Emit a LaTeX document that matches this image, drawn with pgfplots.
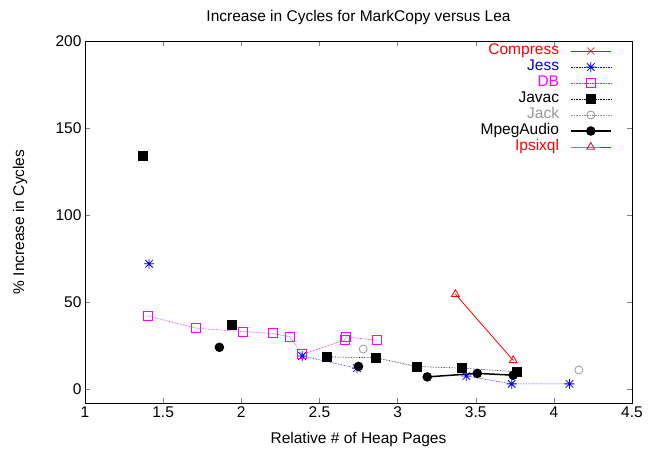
\documentclass[border=0pt]{standalone}
\usepackage{fontspec}
\setmainfont{Liberation Sans}
\usepackage{pgfplots}
\pgfplotsset{compat=1.18}
\definecolor{jackgray}{RGB}{150,150,150}
\definecolor{gpred}{RGB}{255,0,0}
\definecolor{gpblue}{RGB}{0,0,255}
\definecolor{gpmag}{RGB}{255,0,255}

% gnuplot style star: plus and cross together
\pgfdeclareplotmark{gpstar}{%
  \pgfpathmoveto{\pgfqpoint{-\pgfplotmarksize}{0pt}}\pgfpathlineto{\pgfqpoint{\pgfplotmarksize}{0pt}}%
  \pgfpathmoveto{\pgfqpoint{0pt}{-\pgfplotmarksize}}\pgfpathlineto{\pgfqpoint{0pt}{\pgfplotmarksize}}%
  \pgfpathmoveto{\pgfqpoint{-0.75\pgfplotmarksize}{-0.75\pgfplotmarksize}}\pgfpathlineto{\pgfqpoint{0.75\pgfplotmarksize}{0.75\pgfplotmarksize}}%
  \pgfpathmoveto{\pgfqpoint{-0.75\pgfplotmarksize}{0.75\pgfplotmarksize}}\pgfpathlineto{\pgfqpoint{0.75\pgfplotmarksize}{-0.75\pgfplotmarksize}}%
  \pgfusepathqstroke}

\begin{document}
\begin{tikzpicture}[font=\fontsize{15.5bp}{18bp}\selectfont]
\useasboundingbox (-85bp,-51bp) rectangle (572bp,403bp);
\begin{axis}[
    at={(0,0)}, anchor=south west,
    scale only axis,
    width=547bp, height=362bp,
    xmin=1, xmax=4.5, ymin=-8, ymax=200,
    xtick={1,1.5,2,2.5,3,3.5,4,4.5},
    ytick={0,50,100,150,200},
    /pgf/number format/assume math mode=true,
    tick align=inside, tick pos=both,
    major tick length=5bp,
    axis line style={black, line width=0.8bp},
    unbounded coords=jump,
    title={Increase in Cycles for MarkCopy versus Lea},
    xlabel={Relative \# of Heap Pages},
    ylabel={\% Increase in Cycles},
    every axis title/.style={at={(axis description cs:0.5,1)}, yshift=24bp, anchor=center},
    every axis x label/.style={at={(axis description cs:0.5,0)}, yshift=-36bp, anchor=center},
    every axis y label/.style={at={(axis description cs:0,0.5)}, xshift=-65bp, rotate=90, anchor=center},
    legend style={draw=none, fill=none, at={(axis description cs:0.963,0.995)}, anchor=north east,
        row sep=0bp, column sep=10bp, inner sep=0bp,
        nodes={inner sep=1bp, text height=10.5bp, text depth=3.5bp}},
    legend cell align=right,
    legend plot pos=right,
    legend image code/.code={\draw[mark repeat=2,mark phase=2,#1] plot coordinates {(0bp,0bp) (20bp,0bp) (40bp,0bp)};},
]
% Compress (no points in range)
\addlegendimage{gpred, line width=0.6bp, mark=x, mark size=5bp, mark options={solid}}
% Jess
\addplot[gpblue, densely dotted, line width=0.6bp, mark=gpstar, mark size=5bp, mark options={solid, line width=0.8bp}] coordinates {
 (1.41,72) (1.9,nan) (2.39,19) (2.74,12) (3.1,nan) (3.44,7.5) (3.73,3) (4.10,3)};
% DB
\addplot[gpmag, densely dotted, line width=0.6bp, mark=square, mark size=4.5bp, mark options={solid, line width=0.8bp}] coordinates {
 (1.40,42) (1.71,35) (2.01,33) (2.20,32) (2.31,30) (2.39,20) (2.66,28) (2.67,30) (2.87,28)};
% Javac
\addplot[black, densely dotted, line width=0.6bp, mark=square*, mark size=4.5bp, mark options={solid}] coordinates {
 (1.37,134) (1.6,nan) (1.94,37) (2.2,nan) (2.55,18.5) (2.86,18) (3.12,13) (3.41,12) (3.76,10)};
% Jack
\addplot[jackgray, densely dotted, line width=0.6bp, mark=o, mark size=4bp, mark options={solid, line width=0.8bp}] coordinates {
 (2.78,23) (3.5,nan) (4.16,11)};
% MpegAudio
\addplot[black, solid, line width=1.5bp, mark=*, mark size=4bp] coordinates {
 (1.86,24) (2.3,nan) (2.75,13) (3.0,nan) (3.19,7) (3.51,9) (3.74,8)};
% Ipsixql
\addplot[gpred, solid, line width=0.8bp, mark=triangle, mark size=4.5bp] coordinates {
 (3.37,54.5) (3.74,16.5)};
\legend{\textcolor{gpred}{Compress}, \textcolor{gpblue}{Jess}, \textcolor{gpmag}{DB}, Javac,
        \textcolor{jackgray}{Jack}, MpegAudio, \textcolor{gpred}{Ipsixql}}
\end{axis}
\end{tikzpicture}
\end{document}
